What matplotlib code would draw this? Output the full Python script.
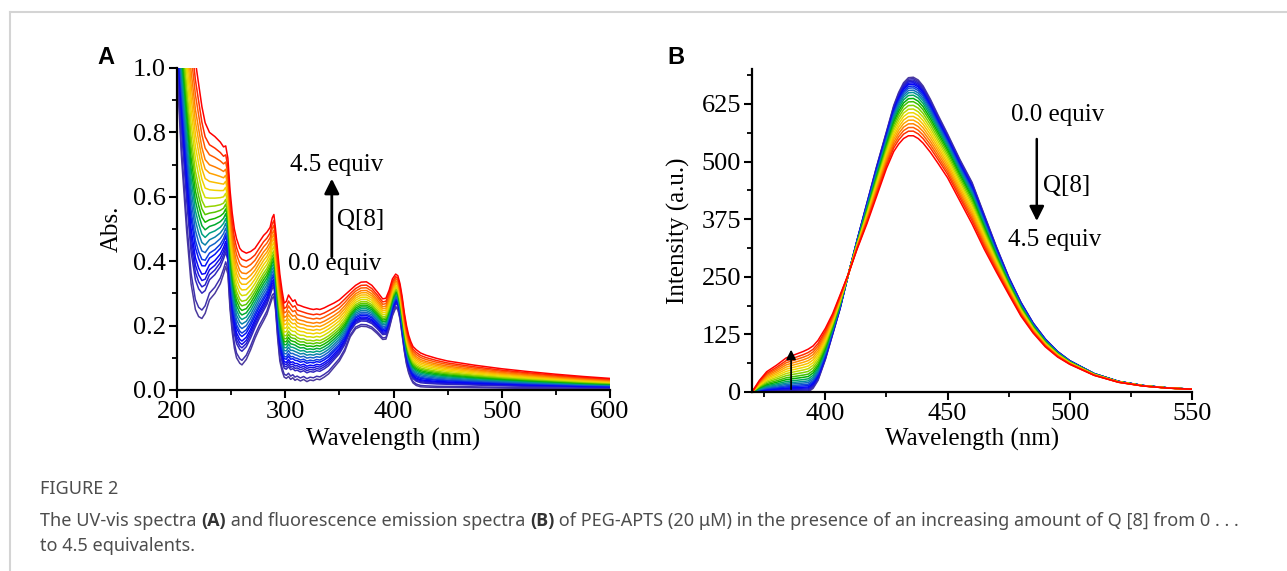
import numpy as np
import matplotlib
matplotlib.use("Agg")
import matplotlib.pyplot as plt
from matplotlib.colors import LinearSegmentedColormap
from matplotlib.lines import Line2D
from matplotlib.ticker import MultipleLocator, FormatStrFormatter

plt.rcParams['font.family'] = ['Liberation Serif', 'DejaVu Serif']

# ---- Panel A: UV-vis, 0.0 equiv (lowest) and 4.5 equiv (highest)
wl_a = [200, 204, 209, 213, 217, 220, 223, 226, 230, 235, 240, 243, 245, 247, 249, 251,
        253, 255, 258, 260, 264, 268, 272, 276, 280, 283, 286, 288, 289.5, 291, 293, 295,
        297, 299, 301, 303, 305, 307, 309, 311, 314, 317, 320, 323, 326, 329, 332, 336,
        340, 345, 350, 355, 360, 365, 370, 375, 380, 385, 390, 393, 396, 399, 402, 404,
        406, 408, 410, 412, 414, 416, 418, 421, 425, 430, 440, 450, 475, 500, 525, 550,
        575, 600]
abs_0eq = [1.00, 0.73, 0.49, 0.33, 0.25, 0.228, 0.222, 0.238, 0.28, 0.30, 0.33, 0.36, 0.383,
           0.36, 0.25, 0.18, 0.13, 0.10, 0.083, 0.078, 0.095, 0.125, 0.16, 0.19, 0.215,
           0.235, 0.265, 0.285, 0.29, 0.25, 0.16, 0.09, 0.06, 0.04, 0.036, 0.042, 0.033,
           0.038, 0.030, 0.034, 0.028, 0.033, 0.026, 0.031, 0.029, 0.034, 0.032, 0.04,
           0.05, 0.07, 0.09, 0.12, 0.165, 0.19, 0.198, 0.197, 0.19, 0.175, 0.157, 0.158,
           0.19, 0.23, 0.255, 0.25, 0.22, 0.17, 0.12, 0.08, 0.053, 0.035, 0.022, 0.014,
           0.01, 0.009, 0.008, 0.008, 0.007, 0.006, 0.005, 0.005, 0.004, 0.004]
abs_45eq = [1.6, 1.45, 1.3, 1.15, 1.02, 0.95, 0.88, 0.83, 0.80, 0.787, 0.77, 0.755, 0.758,
            0.72, 0.62, 0.55, 0.50, 0.47, 0.44, 0.432, 0.425, 0.43, 0.44, 0.46, 0.48,
            0.49, 0.505, 0.535, 0.545, 0.50, 0.43, 0.36, 0.31, 0.27, 0.275, 0.295, 0.285,
            0.275, 0.28, 0.265, 0.262, 0.258, 0.255, 0.252, 0.25, 0.252, 0.25, 0.255,
            0.262, 0.27, 0.28, 0.295, 0.31, 0.325, 0.335, 0.336, 0.325, 0.305, 0.283, 0.285,
            0.31, 0.345, 0.36, 0.355, 0.33, 0.29, 0.24, 0.2, 0.17, 0.15, 0.135, 0.125,
            0.115, 0.108, 0.098, 0.09, 0.077, 0.066, 0.057, 0.049, 0.042, 0.036]
# absorbance of every titration curve at 235 nm
abs_235 = [0.285, 0.305, 0.345, 0.36, 0.375, 0.39, 0.41, 0.425, 0.445, 0.465, 0.485, 0.505,
           0.525, 0.545, 0.565, 0.59, 0.615, 0.64, 0.665, 0.69, 0.72, 0.75, 0.787]

# ---- Panel B: fluorescence, 0.0 equiv and 4.5 equiv
wl_b = [370, 373, 376, 380, 384, 388, 391, 393, 395, 397, 400, 403, 406, 409.5, 413, 417,
        421, 425, 428, 430, 432, 434, 436, 438, 440, 443, 446, 450, 455, 460, 465, 470,
        475, 480, 485, 490, 495, 500, 510, 520, 530, 540, 550]
fl_0eq = [0, 0, 0, 0, 0, 0, 0, 0, 8, 25, 70, 125, 180, 257, 330, 410, 490, 565, 622, 650,
          671, 682, 683, 677, 664, 635, 602, 560, 505, 455, 385, 315, 250, 195, 150, 115,
          88, 68, 40, 23, 14, 9, 6]
fl_45eq = [0, 25, 44, 58, 74, 82, 88, 93, 100, 112, 138, 170, 210, 257, 310, 365, 425, 485,
           522, 538, 550, 556, 556, 550, 540, 520, 497, 465, 415, 365, 310, 260, 212, 165,
           128, 98, 76, 60, 36, 21, 13, 8.5, 6]
# peak intensity of every titration curve
fl_peak = [683, 680, 677, 674, 671, 668, 664, 660, 655, 650, 644, 637, 630, 622, 614, 606,
           598, 590, 582, 574, 566, 556]

rainbow = LinearSegmentedColormap.from_list('spec', [
    (0.0, '#4b3a9e'), (0.12, '#2a22c8'), (0.25, '#0000ff'), (0.36, '#1560cc'),
    (0.45, '#00a08a'), (0.53, '#00b000'), (0.62, '#80d000'), (0.70, '#ece000'),
    (0.80, '#ffb000'), (0.90, '#ff6400'), (1.0, '#ff0000')])

fig = plt.figure(figsize=(12.87, 5.71), dpi=100)

# card frame
fig.add_artist(Line2D([10/1287, 1], [1-12/571, 1-12/571], color='#d4d4d4', lw=1.5))
fig.add_artist(Line2D([10/1287, 10/1287], [0, 1-12/571], color='#d4d4d4', lw=1.5))


def style(ax):
    for s in ['top', 'right']:
        ax.spines[s].set_visible(False)
    for s in ['left', 'bottom']:
        ax.spines[s].set_linewidth(1.6)
    ax.tick_params(which='major', direction='out', length=6, width=1.5, labelsize=19, pad=2)
    ax.tick_params(which='minor', direction='out', length=3.5, width=1.3)


# ---- A
ax = fig.add_axes([177/1287, 181/571, 433/1287, 322/571])
lo, hi = np.array(abs_0eq), np.array(abs_45eq)
n = len(abs_235)
for i, v in enumerate(abs_235):
    w = (v - abs_235[0]) / (abs_235[-1] - abs_235[0])
    ax.plot(wl_a, lo + w * (hi - lo), color=rainbow(i / (n - 1)), lw=1.1)
ax.set_xlim(200, 600)
ax.set_ylim(0, 1.0)
ax.xaxis.set_major_locator(MultipleLocator(100))
ax.xaxis.set_minor_locator(MultipleLocator(50))
ax.yaxis.set_major_locator(MultipleLocator(0.2))
ax.yaxis.set_minor_locator(MultipleLocator(0.1))
ax.yaxis.set_major_formatter(FormatStrFormatter('%.1f'))
style(ax)
ax.set_xlabel('Wavelength (nm)', fontsize=18)
ax.set_ylabel('Abs.', fontsize=18)
ax.xaxis.set_label_coords(0.5, -0.118)
ax.yaxis.set_label_coords(-0.125, 0.5)
ax.annotate('', xy=(343, 0.665), xytext=(343, 0.405),
            arrowprops=dict(arrowstyle='-|>', color='black', lw=2, mutation_scale=22))
ax.text(347, 0.665, '4.5 equiv', fontsize=18, ha='center', va='bottom')
ax.text(347.5, 0.527, 'Q[8]', fontsize=18, ha='left', va='center')
ax.text(346, 0.39, '0.0 equiv', fontsize=18, ha='center', va='center')
fig.text(97/1287, 1-64/571, 'A', fontsize=17, fontweight='bold', family='Liberation Sans')

# ---- B
ax = fig.add_axes([752/1287, 179/571, 440/1287, 322.6/571])
lo, hi = np.array(fl_0eq), np.array(fl_45eq)
n = len(fl_peak)
for i, p in enumerate(fl_peak):
    w = (fl_peak[0] - p) / (fl_peak[0] - fl_peak[-1])
    ax.plot(wl_b, lo + w * (hi - lo), color=rainbow(i / (n - 1)), lw=1.1)
ax.set_xlim(370, 550)
ax.set_ylim(0, 700)
ax.set_xticks([400, 450, 500, 550])
ax.xaxis.set_minor_locator(MultipleLocator(25))
ax.set_yticks([0, 125, 250, 375, 500, 625])
ax.yaxis.set_minor_locator(MultipleLocator(62.5))
style(ax)
ax.set_xlabel('Wavelength (nm)', fontsize=18)
ax.set_ylabel('Intensity (a.u.)', fontsize=18)
ax.xaxis.set_label_coords(0.5, -0.112)
ax.yaxis.set_label_coords(-0.14, 0.5)
ax.annotate('', xy=(486.5, 365), xytext=(486.5, 555),
            arrowprops=dict(arrowstyle='-|>', color='black', lw=1.8, mutation_scale=22))
ax.annotate('', xy=(386, 98), xytext=(386, 0),
            arrowprops=dict(arrowstyle='-|>', color='black', lw=1.3, mutation_scale=14))
ax.text(495, 600, '0.0 equiv', fontsize=18, ha='center', va='center')
ax.text(489, 448, 'Q[8]', fontsize=18, ha='left', va='center')
ax.text(494, 329, '4.5 equiv', fontsize=18, ha='center', va='center')
fig.text(667/1287, 1-64/571, 'B', fontsize=17, fontweight='bold', family='Liberation Sans')

# ---- caption (pieces chained so the bold panel letters sit inline)
cap = dict(family=['Noto Sans', 'DejaVu Sans'], fontsize=13, color='#4d4d4d')
capb = dict(family=['Open Sans', 'Noto Sans', 'DejaVu Sans'], fontsize=13, color='#333333',
            fontweight='bold')
fig.text(40/1287, 1-494/571, 'FIGURE 2', **cap)
parts = [('The UV-vis spectra ', False), ('(A)', True),
         (' and fluorescence emission spectra ', False), ('(B)', True),
         (' of PEG-APTS (20 μM) in the presence of an increasing amount of Q [8] from 0 . . .',
          False)]
prev = fig.text(40/1287, 1-526/571, parts[0][0], **cap)
for s, bold in parts[1:]:
    prev = ax.annotate(s, xy=(1, 0), xycoords=prev, va='bottom', ha='left',
                       **(capb if bold else cap))
fig.text(40/1287, 1-551/571, 'to 4.5 equivalents.', **cap)
fig.savefig('out.png', dpi=100)
